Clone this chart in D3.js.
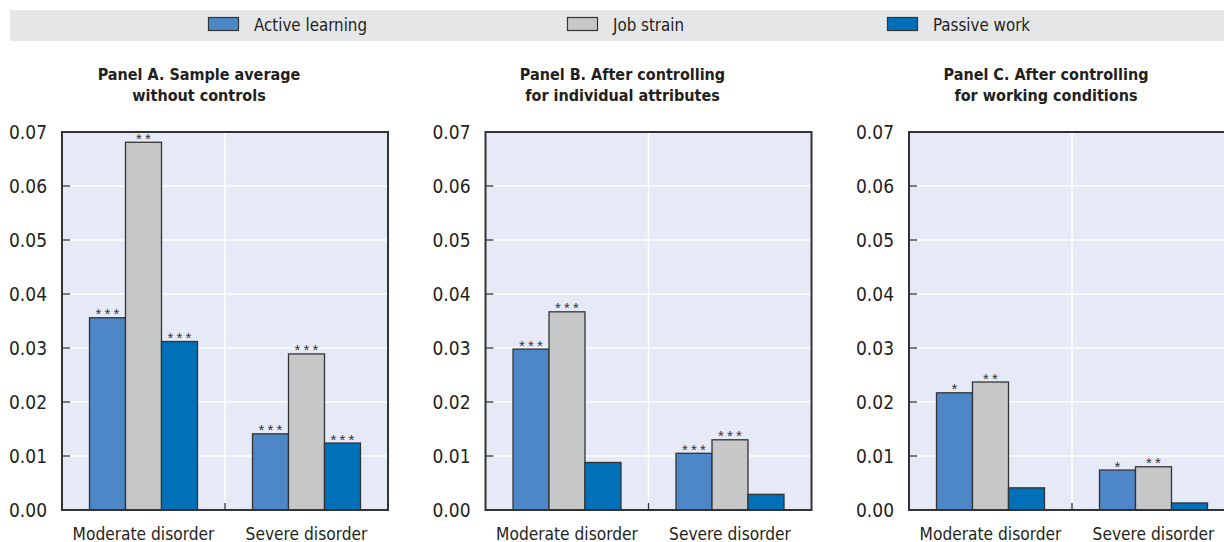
<!DOCTYPE html>
<html>
<head>
<meta charset="utf-8">
<script src="https://cdn.jsdelivr.net/npm/d3@7"></script>
<style>
  html, body { margin: 0; padding: 0; background: #fff; }
  svg { display: block; }
  text { font-family: "DejaVu Sans", sans-serif; font-stretch: condensed; fill: #231f20; }
  text.star { font-family: "Liberation Sans", Arial, sans-serif; font-stretch: normal; fill: #333; }
</style>
</head>
<body>
<svg id="chart" width="1224" height="542"></svg>
<script>
// Categories, series and panel titles
const categories = ["Moderate disorder", "Severe disorder"];
const seriesNames = ["Active learning", "Job strain", "Passive work"];
const panelTitles = [
  ["Panel A. Sample average", "without controls"],
  ["Panel B. After controlling", "for individual attributes"],
  ["Panel C. After controlling", "for working conditions"]
];
const yTicks = [0, 0.01, 0.02, 0.03, 0.04, 0.05, 0.06, 0.07];

// Values per panel: [series][category]
const panelA = [[0.0356, 0.0141], [0.0681, 0.0289], [0.0312, 0.0124]];
const panelB = [[0.0298, 0.0105], [0.0367, 0.0130], [0.0088, 0.0029]];
const panelC = [[0.0217, 0.0074], [0.0237, 0.0080], [0.0041, 0.0013]];

// Significance markers per panel: [series][category]
const starsA = [["***", "***"], ["**", "***"], ["***", "***"]];
const starsB = [["***", "***"], ["***", "***"], ["", ""]];
const starsC = [["*", "*"], ["**", "**"], ["", ""]];

const colors = ["#4e87c7", "#c6c7c9", "#0070b9"];

const panels = [
  { title: panelTitles[0], values: panelA, stars: starsA },
  { title: panelTitles[1], values: panelB, stars: starsB },
  { title: panelTitles[2], values: panelC, stars: starsC }
];

const svg = d3.select("#chart");

// Legend band
const legend = svg.append("g");
legend.append("rect").attr("x", 10).attr("y", 10).attr("width", 1214).attr("height", 31).attr("fill", "#e5e6e8");
const legendX = [208, 567, 887];
seriesNames.forEach((name, i) => {
  legend.append("rect").attr("x", legendX[i] + 0.5).attr("y", 17.5).attr("width", 30).attr("height", 13)
    .attr("fill", colors[i]).attr("stroke", "#333").attr("stroke-width", 1.2);
  legend.append("text").attr("x", legendX[i] + 46).attr("y", 31)
    .attr("font-size", 16.8).text(name);
});

// Panel geometry
const plotW = 326, plotTop = 132, plotBottom = 510;
const plotH = plotBottom - plotTop;
const panelStep = 423.5, firstLeft = 62;

const y = d3.scaleLinear().domain([0, 0.07]).range([plotH, 0]);
const x0 = d3.scaleBand().domain(categories).range([0, plotW]);
const x1 = d3.scaleBand().domain(d3.range(seriesNames.length))
  .range([x0.bandwidth() / 2 - 54, x0.bandwidth() / 2 + 54]);

panels.forEach((p, pi) => {
  const left = firstLeft + pi * panelStep;
  const g = svg.append("g").attr("transform", `translate(${left},${plotTop})`);

  // Title centred over the panel including tick labels
  const titleCx = (left - 52 + left + plotW) / 2;
  p.title.forEach((line, li) => {
    svg.append("text").attr("x", titleCx).attr("y", 80 + li * 20.5)
      .attr("text-anchor", "middle").attr("font-weight", "bold")
      .attr("font-size", 16).text(line);
  });

  // Plot background
  g.append("rect").attr("width", plotW).attr("height", plotH).attr("fill", "#e6eaf6");

  // Gridlines
  g.selectAll("line.grid").data(yTicks.slice(1, -1)).join("line")
    .attr("x1", 0).attr("x2", plotW).attr("y1", d => y(d)).attr("y2", d => y(d))
    .attr("stroke", "#fff").attr("stroke-width", 1.5);
  g.append("line").attr("x1", plotW / 2).attr("x2", plotW / 2).attr("y1", 0).attr("y2", plotH)
    .attr("stroke", "#fff").attr("stroke-width", 1.5);

  // Bars with significance stars above them
  categories.forEach((cat, ci) => {
    seriesNames.forEach((s, si) => {
      const v = p.values[si][ci];
      const bx = x0(cat) + x1(si);
      g.append("rect").attr("x", bx).attr("y", y(v))
        .attr("width", x1.bandwidth()).attr("height", plotH - y(v))
        .attr("fill", colors[si]).attr("stroke", "#333").attr("stroke-width", 1.3);
      const n = p.stars[si][ci].length;
      for (let k = 0; k < n; k++) {
        g.append("text").attr("class", "star")
          .attr("x", bx + x1.bandwidth() / 2 + (k - (n - 1) / 2) * 9)
          .attr("y", y(v) + 1.5)
          .attr("text-anchor", "middle").attr("font-size", 15)
          .text("*");
      }
    });
  });

  // Frame
  g.append("rect").attr("width", plotW).attr("height", plotH)
    .attr("fill", "none").attr("stroke", "#333").attr("stroke-width", 2);

  // Inward ticks on the y axis and at the category boundary
  g.selectAll("line.tick").data(yTicks.slice(1, -1)).join("line")
    .attr("x1", 0).attr("x2", 8).attr("y1", d => y(d)).attr("y2", d => y(d))
    .attr("stroke", "#333").attr("stroke-width", 1.3);
  g.append("line").attr("x1", plotW / 2).attr("x2", plotW / 2).attr("y1", plotH).attr("y2", plotH - 7)
    .attr("stroke", "#333").attr("stroke-width", 1.3);

  // Y tick labels
  g.selectAll("text.ylab").data(yTicks).join("text")
    .attr("x", -15).attr("y", d => y(d)).attr("dy", "0.36em")
    .attr("text-anchor", "end").attr("font-size", 19)
    .text(d => d3.format(".2f")(d));

  // Category labels
  g.selectAll("text.xlab").data(categories).join("text")
    .attr("x", d => x0(d) + x0.bandwidth() / 2).attr("y", plotH + 29.5)
    .attr("text-anchor", "middle").attr("font-size", 17.2).text(d => d);
});
</script>
</body>
</html>
